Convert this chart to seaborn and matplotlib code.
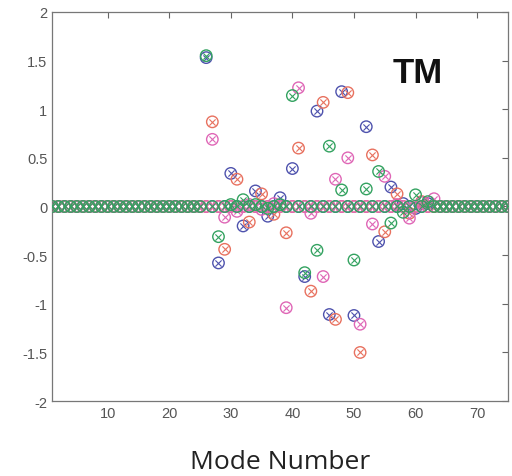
import numpy as np
import pandas as pd
import matplotlib
matplotlib.use("Agg")
import matplotlib.pyplot as plt
import seaborn as sns

# mode numbers and the non-zero values of each series (zero elsewhere)
modes = list(range(1, 76))

blue_modes = [26, 28, 30, 32, 34, 36, 38, 40, 42, 44, 46, 48, 50, 52, 54, 56, 58, 60, 62]
blue_vals = [1.53, -0.58, 0.34, -0.20, 0.16, -0.10, 0.09, 0.39, -0.72, 0.98,
             -1.11, 1.18, -1.12, 0.82, -0.36, 0.20, 0.03, -0.02, 0.03]

red_modes = [27, 29, 31, 33, 35, 37, 39, 41, 43, 45, 47, 49, 51, 53, 55, 57, 59, 61]
red_vals = [0.87, -0.44, 0.28, -0.16, 0.13, -0.08, -0.27, 0.60, -0.87, 1.07,
            -1.16, 1.17, -1.50, 0.53, -0.26, 0.13, -0.07, 0.05]

pink_modes = [27, 29, 31, 33, 35, 37, 39, 41, 43, 45, 47, 49, 51, 53, 55, 57, 59, 61, 63]
pink_vals = [0.69, -0.11, -0.05, 0.02, -0.03, 0.03, -1.04, 1.22, -0.07, -0.72,
             0.28, 0.50, -1.21, -0.18, 0.31, 0.02, -0.12, 0.04, 0.08]

green_modes = [26, 28, 30, 32, 34, 36, 38, 40, 42, 44, 46, 48, 50, 52, 54, 56, 58, 60, 62]
green_vals = [1.55, -0.31, 0.02, 0.07, 0.02, -0.02, 0.02, 1.14, -0.68, -0.45,
              0.62, 0.17, -0.55, 0.18, 0.36, -0.17, -0.06, 0.12, 0.05]

series = [
    ("blue", blue_modes, blue_vals, "#4e52ad"),
    ("red", red_modes, red_vals, "#e8715f"),
    ("pink", pink_modes, pink_vals, "#df66b6"),
    ("green", green_modes, green_vals, "#33a260"),
]

sns.set_style("white")
plt.rcParams["font.family"] = ["Liberation Sans", "DejaVu Sans"]

fig = plt.figure(figsize=(5.12, 4.77), dpi=100)
ax = fig.add_axes([0.102, 0.157, 0.890, 0.816])

for name, m, v, col in series:
    y = np.zeros(len(modes))
    for mm, vv in zip(m, v):
        y[mm - 1] = vv
    df = pd.DataFrame({"mode": modes, "val": y})
    sns.scatterplot(data=df, x="mode", y="val", ax=ax, marker="o", s=68,
                    facecolors="none", edgecolor=col, linewidth=1.0, zorder=3)
    sns.scatterplot(data=df, x="mode", y="val", ax=ax, marker="x", s=20,
                    color=col, linewidth=0.8, zorder=3)

ax.set_xlim(1, 75)
ax.set_ylim(-2, 2)
ax.set_xticks(range(10, 71, 10))
ax.set_yticks(np.arange(-2, 2.01, 0.5))
ax.set_yticklabels(["-2", "-1.5", "-1", "-0.5", "0", "0.5", "1", "1.5", "2"])
ax.tick_params(direction="in", length=4, width=0.8, colors="#666666",
               labelsize=10.5, labelcolor="#555555", top=True, right=True)
for s in ax.spines.values():
    s.set_color("#777777")
    s.set_linewidth(0.9)

ax.set_ylabel("")
ax.set_xlabel("Mode Number", fontsize=19, family="Open Sans", color="#222222", labelpad=21)
ax.text(60.4, 1.38, "TM", fontsize=25, fontweight="bold", ha="center", va="center",
        color="#111111")

fig.savefig("out.png", dpi=100)
